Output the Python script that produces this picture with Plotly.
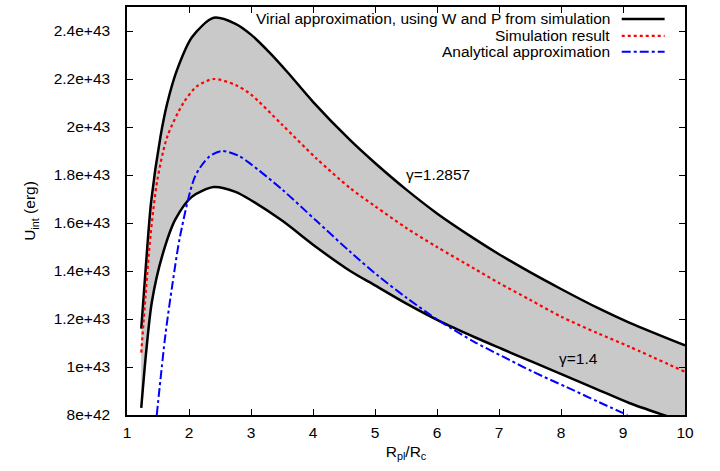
import numpy as np
import plotly.graph_objects as go

E = 1e42
# Virial approximation, gamma = 1.2857 (upper curve), values in units of 1e42 erg
x_upper = [1.23, 1.31, 1.39, 1.54, 1.65, 1.81, 2.05, 2.4, 2.75, 3.0, 3.3, 3.6, 4.0, 4.6, 5.0, 5.5, 6.0, 6.6, 7.0, 7.5, 8.0, 8.6, 9.1, 10.0]
u_upper = [11.6, 14.4, 16.9, 19.6, 21.0, 22.4, 23.75, 24.55, 24.3, 23.85, 23.1, 22.25, 21.05, 19.45, 18.5, 17.4, 16.4, 15.35, 14.7, 13.95, 13.25, 12.45, 11.85, 10.9]
# Virial approximation, gamma = 1.4 (lower curve)
x_lower = [1.23, 1.31, 1.4, 1.57, 1.78, 2.05, 2.4, 2.75, 3.0, 3.5, 4.05, 4.6, 5.0, 5.5, 6.05, 6.6, 7.05, 7.55, 8.1, 8.6, 9.1, 9.7, 10.0]
u_lower = [8.3, 10.65, 12.7, 14.65, 16.15, 17.1, 17.5, 17.3, 16.95, 16.1, 15.0, 14.0, 13.4, 12.65, 11.9, 11.25, 10.75, 10.2, 9.6, 9.05, 8.5, 7.96, 7.7]
# Simulation result
x_sim = [1.23, 1.3, 1.38, 1.49, 1.65, 1.91, 2.13, 2.4, 2.75, 3.0, 3.5, 4.05, 4.6, 5.0, 5.5, 6.0, 6.6, 7.0, 7.5, 8.0, 8.6, 9.1, 10.0]
u_sim = [10.6, 13.0, 15.5, 17.8, 19.6, 21.0, 21.7, 22.0, 21.75, 21.35, 20.1, 18.7, 17.45, 16.7, 15.8, 15.0, 14.1, 13.5, 12.8, 12.1, 11.4, 10.85, 9.8]
# Analytical approximation
x_ana = [1.48, 1.62, 1.73, 1.86, 2.1, 2.32, 2.53, 2.8, 3.0, 3.5, 4.05, 4.6, 5.05, 5.5, 6.05, 6.6, 7.05, 7.55, 8.1, 8.6, 9.07]
u_ana = [8.0, 11.35, 13.4, 15.5, 17.95, 18.75, 19.0, 18.8, 18.45, 17.4, 16.1, 14.8, 13.8, 12.9, 11.9, 11.05, 10.45, 9.8, 9.15, 8.55, 8.0]

y_tickvals = [8e42, 1e43, 1.2e43, 1.4e43, 1.6e43, 1.8e43, 2e43, 2.2e43, 2.4e43]
y_ticktext = ["8e+42", "1e+43", "1.2e+43", "1.4e+43", "1.6e+43", "1.8e+43", "2e+43", "2.2e+43", "2.4e+43"]
x_tickvals = [1, 2, 3, 4, 5, 6, 7, 8, 9, 10]

legend_names = ["Virial approximation, using W and P from simulation", "Simulation result", "Analytical approximation"]
gamma_labels = ["γ=1.2857", "γ=1.4"]

FONT = "Liberation Sans, Arial, Helvetica, sans-serif"
FS = 15.5

yu = np.array(u_upper) * E
yl = np.array(u_lower) * E

fig = go.Figure()
# grey band between the two virial curves
fig.add_trace(go.Scatter(
    x=list(x_upper) + list(x_lower[::-1]),
    y=list(yu) + list(yl[::-1]),
    fill="toself", fillcolor="#c9c9c9", mode="none", showlegend=False, hoverinfo="skip"))

sp = dict(shape="spline", smoothing=0.8)
fig.add_trace(go.Scatter(x=x_upper, y=yu, mode="lines", line=dict(color="black", width=2.5, **sp), showlegend=False))
fig.add_trace(go.Scatter(x=x_lower, y=yl, mode="lines", line=dict(color="black", width=2.5, **sp), showlegend=False))
fig.add_trace(go.Scatter(x=x_sim, y=np.array(u_sim) * E, mode="lines", line=dict(color="#ff0000", width=2.2, dash="dot", **sp), showlegend=False))
fig.add_trace(go.Scatter(x=x_ana, y=np.array(u_ana) * E, mode="lines", line=dict(color="#0000ff", width=2, dash="dashdot", **sp), showlegend=False))

# manual legend (text right-aligned, sample on the right, gnuplot style)
rows_y = [0.9707, 0.9293, 0.8902]
styles = [dict(color="black", width=2.5), dict(color="#ff0000", width=2.2, dash="dot"), dict(color="#0000ff", width=2, dash="dashdot")]
for name, ry, st in zip(legend_names, rows_y, styles):
    fig.add_annotation(x=0.8687, y=ry, xref="paper", yref="paper", text=name, showarrow=False,
                       xanchor="right", yanchor="middle", font=dict(family=FONT, size=FS, color="black"))
    fig.add_shape(type="line", xref="paper", yref="paper", x0=0.8866, x1=0.9635, y0=ry, y1=ry, line=st)

fig.add_annotation(x=6.02, y=18.02 * E, text=gamma_labels[0], showarrow=False, font=dict(family=FONT, size=FS, color="black"))
fig.add_annotation(x=8.28, y=10.36 * E, text=gamma_labels[1], showarrow=False, font=dict(family=FONT, size=FS, color="black"))

axis_common = dict(showgrid=False, zeroline=False, showline=True, linecolor="black", linewidth=1.5,
                   mirror="allticks", ticks="inside", ticklen=6, tickwidth=1.2, tickcolor="black",
                   tickfont=dict(family=FONT, size=FS, color="black"))
fig.update_xaxes(range=[1, 10], tickvals=x_tickvals, ticktext=[str(v) for v in x_tickvals],
                 title=dict(text="R<sub>pl</sub>/R<sub>c</sub>", font=dict(family=FONT, size=FS, color="black"), standoff=6),
                 ticklabelstandoff=3, **axis_common)
fig.update_yaxes(range=[8e42, 2.5e43], tickvals=y_tickvals, ticktext=y_ticktext,
                 title=dict(text="U<sub>int</sub> (erg)", font=dict(family=FONT, size=FS, color="black"), standoff=14),
                 ticklabelstandoff=12, **axis_common)

fig.update_layout(width=720, height=471, margin=dict(l=127, r=35, t=5, b=56),
                  paper_bgcolor="white", plot_bgcolor="white", showlegend=False,
                  font=dict(family=FONT, size=FS, color="black"))

fig.write_html("out.html")
